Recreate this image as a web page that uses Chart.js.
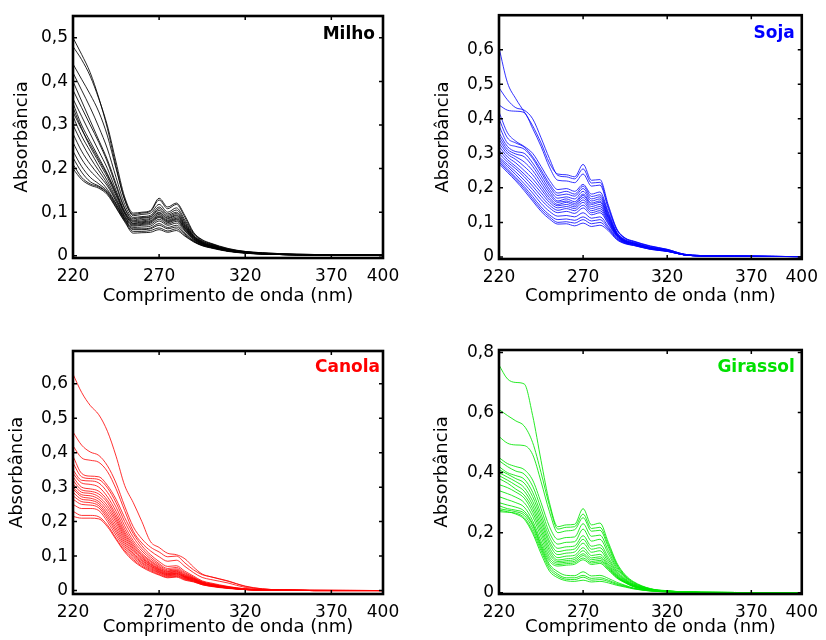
<!DOCTYPE html>
<html>
<head>
<meta charset="utf-8">
<script src="https://cdn.jsdelivr.net/npm/chart.js@4.4.1/dist/chart.umd.min.js"></script>
<style>
  body { margin: 0; background: #fff; }
  canvas { position: absolute; }
</style>
</head>
<body>
<canvas id="milho" width="413" height="320" style="left:0;top:0"></canvas>
<canvas id="soja" width="413" height="320" style="left:413px;top:0"></canvas>
<canvas id="canola" width="413" height="320" style="left:0;top:320px"></canvas>
<canvas id="girassol" width="413" height="320" style="left:413px;top:320px"></canvas>
<script>
// comprimentos de onda (nm) e absorbâncias em mAU (milésimos)
const wavelengths = [220, 225, 230, 235, 240, 245, 250, 255, 260, 265, 270, 275, 280, 285, 290, 295, 300, 310, 320, 330, 340, 360, 400];
const xTicks = [220, 270, 320, 370, 400];

const milho = [
  [500, 462, 420, 362, 292, 205, 128, 95, 98, 102, 128, 108, 118, 88, 52, 36, 28, 16, 10, 7, 5, 3, 2],
  [480, 450, 412, 360, 298, 215, 135, 98, 100, 104, 132, 112, 121, 92, 54, 37, 29, 17, 10, 7, 5, 3, 2],
  [440, 405, 370, 330, 275, 200, 130, 92, 95, 98, 118, 100, 110, 82, 50, 34, 27, 15, 9, 6, 4, 3, 2],
  [420, 380, 340, 295, 245, 180, 118, 88, 90, 93, 112, 96, 105, 78, 47, 33, 26, 15, 9, 6, 4, 2, 1],
  [400, 355, 310, 265, 220, 165, 110, 85, 88, 90, 108, 93, 100, 75, 46, 32, 25, 14, 9, 6, 4, 2, 1],
  [380, 340, 300, 260, 215, 160, 108, 82, 86, 89, 104, 90, 97, 72, 45, 31, 24, 14, 8, 5, 4, 2, 1],
  [360, 320, 280, 240, 200, 150, 102, 80, 83, 86, 100, 87, 94, 70, 44, 30, 24, 13, 8, 5, 3, 2, 1],
  [350, 300, 262, 225, 188, 145, 100, 78, 80, 84, 98, 85, 92, 68, 43, 30, 23, 13, 8, 5, 3, 2, 1],
  [340, 292, 250, 215, 180, 138, 96, 75, 78, 81, 95, 82, 89, 66, 42, 29, 23, 13, 8, 5, 3, 2, 1],
  [330, 290, 255, 220, 185, 142, 98, 74, 76, 79, 92, 80, 86, 64, 41, 28, 22, 12, 8, 5, 3, 2, 1],
  [320, 275, 240, 205, 172, 132, 92, 72, 74, 77, 90, 78, 84, 63, 40, 28, 22, 12, 7, 5, 3, 2, 1],
  [300, 260, 225, 195, 165, 128, 90, 70, 72, 75, 88, 76, 82, 61, 39, 27, 21, 12, 7, 5, 3, 2, 1],
  [280, 240, 210, 185, 160, 125, 88, 68, 70, 72, 84, 73, 79, 59, 38, 27, 21, 12, 7, 5, 3, 2, 1],
  [260, 222, 195, 175, 152, 120, 85, 65, 66, 68, 80, 70, 75, 57, 37, 26, 20, 11, 7, 4, 3, 2, 1],
  [240, 205, 180, 165, 148, 118, 84, 62, 62, 64, 74, 65, 70, 53, 35, 25, 20, 11, 7, 4, 3, 2, 1],
  [225, 192, 170, 160, 145, 115, 82, 60, 60, 62, 70, 62, 66, 50, 34, 24, 19, 11, 7, 4, 3, 2, 1],
  [210, 180, 165, 158, 143, 112, 80, 56, 56, 58, 64, 57, 62, 47, 33, 24, 19, 11, 6, 4, 3, 2, 1],
  [200, 175, 162, 155, 140, 110, 78, 52, 53, 54, 60, 54, 58, 45, 32, 23, 18, 10, 6, 4, 3, 2, 1]
];

const soja = [
  [606, 505, 458, 420, 380, 330, 272, 240, 238, 232, 268, 222, 224, 150, 82, 55, 46, 32, 22, 8, 4, 2, 1],
  [490, 455, 432, 425, 400, 345, 285, 236, 232, 226, 255, 214, 216, 145, 80, 54, 45, 31, 22, 8, 4, 2, 1],
  [440, 425, 422, 418, 372, 320, 260, 222, 220, 215, 240, 205, 208, 140, 78, 53, 44, 30, 21, 8, 4, 2, 1],
  [420, 360, 335, 320, 300, 262, 222, 195, 198, 190, 210, 182, 188, 130, 72, 50, 42, 28, 20, 7, 4, 2, 1],
  [400, 345, 330, 318, 290, 252, 212, 185, 190, 182, 205, 175, 180, 126, 70, 49, 41, 27, 20, 7, 4, 2, 1],
  [380, 330, 320, 312, 285, 245, 205, 178, 182, 176, 198, 168, 174, 122, 69, 48, 40, 27, 19, 7, 3, 2, 1],
  [360, 320, 305, 300, 272, 235, 196, 170, 174, 168, 190, 162, 168, 118, 67, 47, 40, 26, 19, 7, 3, 2, 1],
  [350, 312, 298, 290, 262, 225, 188, 162, 168, 160, 182, 156, 162, 115, 66, 46, 39, 26, 19, 7, 3, 2, 1],
  [340, 305, 290, 275, 250, 215, 180, 158, 162, 155, 178, 152, 158, 112, 65, 46, 39, 26, 18, 6, 3, 2, 1],
  [330, 298, 282, 262, 238, 205, 172, 152, 158, 150, 172, 146, 152, 108, 64, 45, 38, 25, 18, 6, 3, 2, 1],
  [320, 290, 272, 250, 226, 196, 165, 148, 152, 145, 165, 140, 146, 105, 63, 44, 38, 25, 18, 6, 3, 2, 1],
  [310, 282, 262, 240, 215, 186, 158, 142, 146, 140, 158, 134, 140, 102, 62, 44, 37, 25, 18, 6, 3, 2, 1],
  [300, 275, 255, 232, 205, 176, 150, 135, 140, 134, 150, 128, 134, 98, 60, 43, 37, 24, 17, 6, 3, 2, 1],
  [290, 268, 246, 222, 195, 166, 142, 128, 132, 126, 142, 122, 128, 95, 59, 42, 36, 24, 17, 6, 3, 2, 1],
  [285, 262, 238, 212, 185, 155, 132, 118, 120, 116, 128, 112, 116, 88, 56, 41, 35, 23, 17, 6, 3, 2, 1],
  [280, 255, 230, 204, 175, 145, 122, 108, 110, 106, 116, 104, 108, 84, 54, 40, 34, 23, 17, 6, 3, 2, 1],
  [275, 250, 225, 198, 168, 138, 116, 100, 102, 98, 108, 96, 100, 80, 52, 39, 34, 22, 16, 6, 3, 2, 1],
  [270, 245, 220, 192, 162, 132, 110, 95, 96, 90, 98, 88, 92, 76, 50, 38, 33, 22, 16, 6, 3, 2, 1]
];

const canola = [
  [628, 575, 537, 510, 462, 390, 305, 255, 200, 142, 125, 108, 104, 92, 68, 48, 40, 27, 13, 5, 2, 1, 0],
  [460, 422, 402, 392, 362, 312, 245, 185, 150, 126, 112, 98, 100, 80, 60, 46, 40, 28, 12, 5, 2, 1, 0],
  [420, 385, 378, 372, 345, 295, 232, 172, 138, 115, 98, 85, 88, 70, 52, 38, 32, 22, 9, 4, 2, 1, 0],
  [390, 340, 332, 330, 305, 265, 212, 165, 130, 104, 84, 70, 72, 56, 42, 28, 22, 12, 5, 2, 1, 0, 0],
  [370, 330, 325, 322, 298, 255, 200, 155, 122, 98, 78, 64, 67, 52, 39, 26, 20, 11, 5, 2, 1, 0, 0],
  [350, 320, 318, 312, 285, 242, 188, 145, 115, 92, 74, 60, 63, 49, 37, 25, 19, 10, 4, 2, 1, 0, 0],
  [340, 312, 308, 300, 272, 230, 178, 138, 108, 87, 70, 57, 60, 46, 36, 24, 18, 10, 4, 2, 1, 0, 0],
  [330, 300, 295, 288, 262, 220, 170, 132, 104, 84, 67, 55, 58, 44, 35, 23, 17, 9, 4, 2, 1, 0, 0],
  [320, 292, 288, 280, 255, 212, 164, 127, 100, 80, 64, 53, 56, 42, 34, 22, 17, 9, 4, 2, 1, 0, 0],
  [310, 285, 282, 272, 246, 205, 158, 122, 96, 77, 62, 51, 54, 41, 33, 22, 16, 9, 4, 1, 1, 0, 0],
  [300, 278, 275, 265, 238, 198, 152, 118, 93, 75, 60, 49, 52, 40, 32, 21, 16, 8, 4, 1, 1, 0, 0],
  [295, 272, 268, 258, 230, 190, 146, 113, 89, 72, 58, 48, 50, 39, 31, 21, 15, 8, 3, 1, 1, 0, 0],
  [285, 265, 262, 252, 222, 182, 140, 108, 86, 70, 56, 46, 49, 38, 30, 20, 15, 8, 3, 1, 1, 0, 0],
  [275, 258, 255, 246, 215, 175, 134, 104, 82, 67, 54, 45, 47, 37, 29, 19, 14, 8, 3, 1, 1, 0, 0],
  [265, 250, 248, 240, 208, 168, 128, 100, 79, 64, 52, 43, 45, 35, 28, 19, 14, 7, 3, 1, 1, 0, 0],
  [250, 238, 238, 232, 200, 160, 122, 95, 75, 61, 50, 41, 43, 34, 27, 18, 13, 7, 3, 1, 1, 0, 0],
  [230, 218, 218, 214, 190, 152, 116, 90, 71, 58, 47, 39, 41, 32, 26, 17, 13, 7, 3, 1, 1, 0, 0],
  [215, 210, 210, 208, 185, 148, 112, 86, 68, 55, 45, 37, 39, 30, 25, 17, 12, 6, 3, 1, 1, 0, 0]
];

const girassol = [
  [758, 712, 700, 695, 590, 440, 300, 220, 226, 228, 280, 226, 232, 168, 100, 60, 37, 14, 7, 3, 2, 1, 0],
  [610, 590, 572, 555, 500, 400, 290, 212, 218, 220, 262, 214, 218, 160, 95, 57, 35, 13, 6, 3, 2, 1, 0],
  [520, 498, 492, 490, 460, 370, 270, 200, 206, 210, 250, 205, 208, 152, 90, 55, 33, 13, 6, 3, 2, 1, 0],
  [450, 430, 420, 410, 375, 300, 220, 178, 184, 186, 230, 188, 192, 140, 84, 52, 31, 12, 6, 3, 2, 1, 0],
  [440, 420, 405, 395, 355, 280, 200, 162, 168, 170, 212, 172, 178, 130, 78, 48, 29, 11, 6, 3, 2, 1, 0],
  [420, 400, 390, 378, 335, 262, 185, 148, 153, 156, 190, 155, 160, 118, 72, 45, 27, 11, 5, 2, 1, 1, 0],
  [410, 395, 380, 365, 320, 248, 172, 137, 142, 146, 178, 145, 150, 110, 68, 43, 26, 10, 5, 2, 1, 1, 0],
  [400, 385, 370, 350, 305, 235, 162, 127, 132, 136, 165, 135, 140, 102, 64, 41, 25, 10, 5, 2, 1, 1, 0],
  [390, 375, 358, 338, 292, 222, 150, 117, 122, 125, 150, 124, 128, 95, 60, 39, 24, 10, 5, 2, 1, 1, 0],
  [380, 365, 345, 325, 280, 210, 140, 109, 113, 117, 140, 116, 120, 90, 57, 37, 23, 9, 5, 2, 1, 1, 0],
  [360, 350, 335, 315, 268, 198, 130, 104, 107, 111, 130, 110, 114, 86, 55, 36, 22, 9, 4, 2, 1, 1, 0],
  [340, 330, 318, 300, 255, 185, 120, 99, 102, 105, 124, 104, 108, 82, 53, 35, 21, 9, 4, 2, 1, 1, 0],
  [320, 310, 300, 285, 240, 172, 112, 94, 97, 100, 116, 99, 103, 79, 51, 34, 21, 9, 4, 2, 1, 1, 0],
  [300, 292, 285, 272, 230, 162, 105, 89, 92, 95, 110, 94, 98, 75, 49, 33, 20, 8, 4, 2, 1, 1, 0],
  [290, 280, 275, 265, 225, 155, 95, 70, 58, 57, 70, 56, 58, 48, 35, 25, 16, 7, 4, 2, 1, 1, 0],
  [280, 275, 270, 258, 215, 148, 88, 62, 50, 50, 58, 48, 50, 42, 31, 23, 15, 7, 3, 2, 1, 1, 0],
  [270, 268, 265, 250, 205, 140, 80, 56, 45, 44, 52, 42, 44, 38, 28, 21, 14, 6, 3, 2, 1, 1, 0],
  [275, 270, 262, 245, 198, 130, 72, 50, 40, 38, 42, 36, 38, 33, 25, 19, 13, 6, 3, 2, 1, 1, 0]
];

const milhoTicks = [0, 0.1, 0.2, 0.3, 0.4, 0.5];
const sojaTicks = [0, 0.1, 0.2, 0.3, 0.4, 0.5, 0.6];
const canolaTicks = [0, 0.1, 0.2, 0.3, 0.4, 0.5, 0.6];
const girassolTicks = [0, 0.2, 0.4, 0.6, 0.8];

const FONT = '"DejaVu Sans", "Liberation Sans", Arial, sans-serif';

// moldura estilo Matlab com marcas para dentro + nome do óleo
const framePlugin = {
    id: 'frame',
    afterDatasetsDraw(chart, args, opts) {
        const { ctx, chartArea: a, scales } = chart;
        const x = scales.x, y = scales.y;
        ctx.save();
        ctx.strokeStyle = '#000';
        ctx.lineWidth = 1.5;
        ctx.beginPath();
        x.ticks.forEach(t => {
            const px = x.getPixelForValue(t.value);
            ctx.moveTo(px, a.bottom); ctx.lineTo(px, a.bottom - 4);
            ctx.moveTo(px, a.top); ctx.lineTo(px, a.top + 4);
        });
        y.ticks.forEach(t => {
            const py = y.getPixelForValue(t.value);
            ctx.moveTo(a.left, py); ctx.lineTo(a.left + 4, py);
            ctx.moveTo(a.right, py); ctx.lineTo(a.right - 4, py);
        });
        ctx.stroke();
        ctx.lineWidth = 2.6;
        ctx.strokeRect(a.left, a.top, a.right - a.left, a.bottom - a.top);

        ctx.font = 'bold 17px ' + FONT;
        ctx.fillStyle = opts.color;
        ctx.textAlign = 'right';
        ctx.textBaseline = 'middle';
        ctx.fillText(opts.text, a.right - opts.dx, a.top + opts.dy);
        ctx.restore();
    }
};

function makePanel(id, rows, color, labelColor, title, yMin, yMax, yTicks, lay) {
    const datasets = rows.map(r => ({
        data: r.map((v, i) => ({ x: wavelengths[i], y: v / 1000 })),
        borderColor: color,
        borderWidth: 1,
        pointRadius: 0,
        fill: false,
        cubicInterpolationMode: 'monotone'
    }));

    return new Chart(document.getElementById(id), {
        type: 'line',
        data: { datasets: datasets },
        options: {
            responsive: false,
            animation: false,
            layout: { padding: { top: lay.top, right: lay.right, bottom: 0, left: 0 } },
            plugins: {
                legend: { display: false },
                tooltip: { enabled: false },
                frame: { text: title, color: labelColor, dx: lay.dx, dy: lay.dy }
            },
            scales: {
                x: {
                    type: 'linear',
                    min: 220,
                    max: 400,
                    afterBuildTicks: s => { s.ticks = xTicks.map(v => ({ value: v })); },
                    afterFit: s => { s.height = lay.xh; },
                    grid: { display: false, drawTicks: false },
                    border: { display: false },
                    ticks: {
                        color: '#000',
                        font: { family: FONT, size: 17 },
                        padding: lay.xpad,
                        maxRotation: 0,
                        autoSkip: false,
                        callback: v => String(v)
                    },
                    title: {
                        display: true,
                        text: 'Comprimento de onda (nm)',
                        color: '#000',
                        font: { family: FONT, size: 18 },
                        padding: { top: 0, bottom: lay.xtb }
                    }
                },
                y: {
                    type: 'linear',
                    min: yMin,
                    max: yMax,
                    afterBuildTicks: s => { s.ticks = yTicks.map(v => ({ value: v })); },
                    afterFit: s => { s.width = lay.yw; },
                    grid: { display: false, drawTicks: false },
                    border: { display: false },
                    ticks: {
                        color: '#000',
                        font: { family: FONT, size: 17 },
                        padding: 5,
                        callback: v => v === 0 ? '0' : v.toFixed(1).replace('.', ',')
                    },
                    title: {
                        display: true,
                        text: 'Absorbância',
                        color: '#000',
                        font: { family: FONT, size: 18 },
                        padding: { top: lay.ytp, bottom: 0 }
                    }
                }
            }
        },
        plugins: [framePlugin]
    });
}

makePanel('milho', milho, 'rgba(0,0,0,0.85)', '#000', 'Milho', -0.005, 0.55, milhoTicks,
    { top: 16, right: 30, yw: 73, xh: 62, xpad: 8, xtb: 13, ytp: 12, dx: 8, dy: 19 });
makePanel('soja', soja, 'rgba(0,0,255,0.8)', '#0000ff', 'Soja', -0.006, 0.7, sojaTicks,
    { top: 15, right: 19, yw: 86, xh: 61, xpad: 8, xtb: 13, ytp: 20, dx: 7, dy: 18 });
makePanel('canola', canola, 'rgba(255,0,0,0.8)', '#ff0000', 'Canola', -0.01, 0.695, canolaTicks,
    { top: 31, right: 30, yw: 73, xh: 46, xpad: 8, xtb: 2, ytp: 7, dx: 3, dy: 17 });
makePanel('girassol', girassol, 'rgba(0,230,0,0.85)', '#00e000', 'Girassol', -0.004, 0.808, girassolTicks,
    { top: 30, right: 19, yw: 86, xh: 46, xpad: 8, xtb: 2, ytp: 19, dx: 7, dy: 18 });
</script>
</body>
</html>
